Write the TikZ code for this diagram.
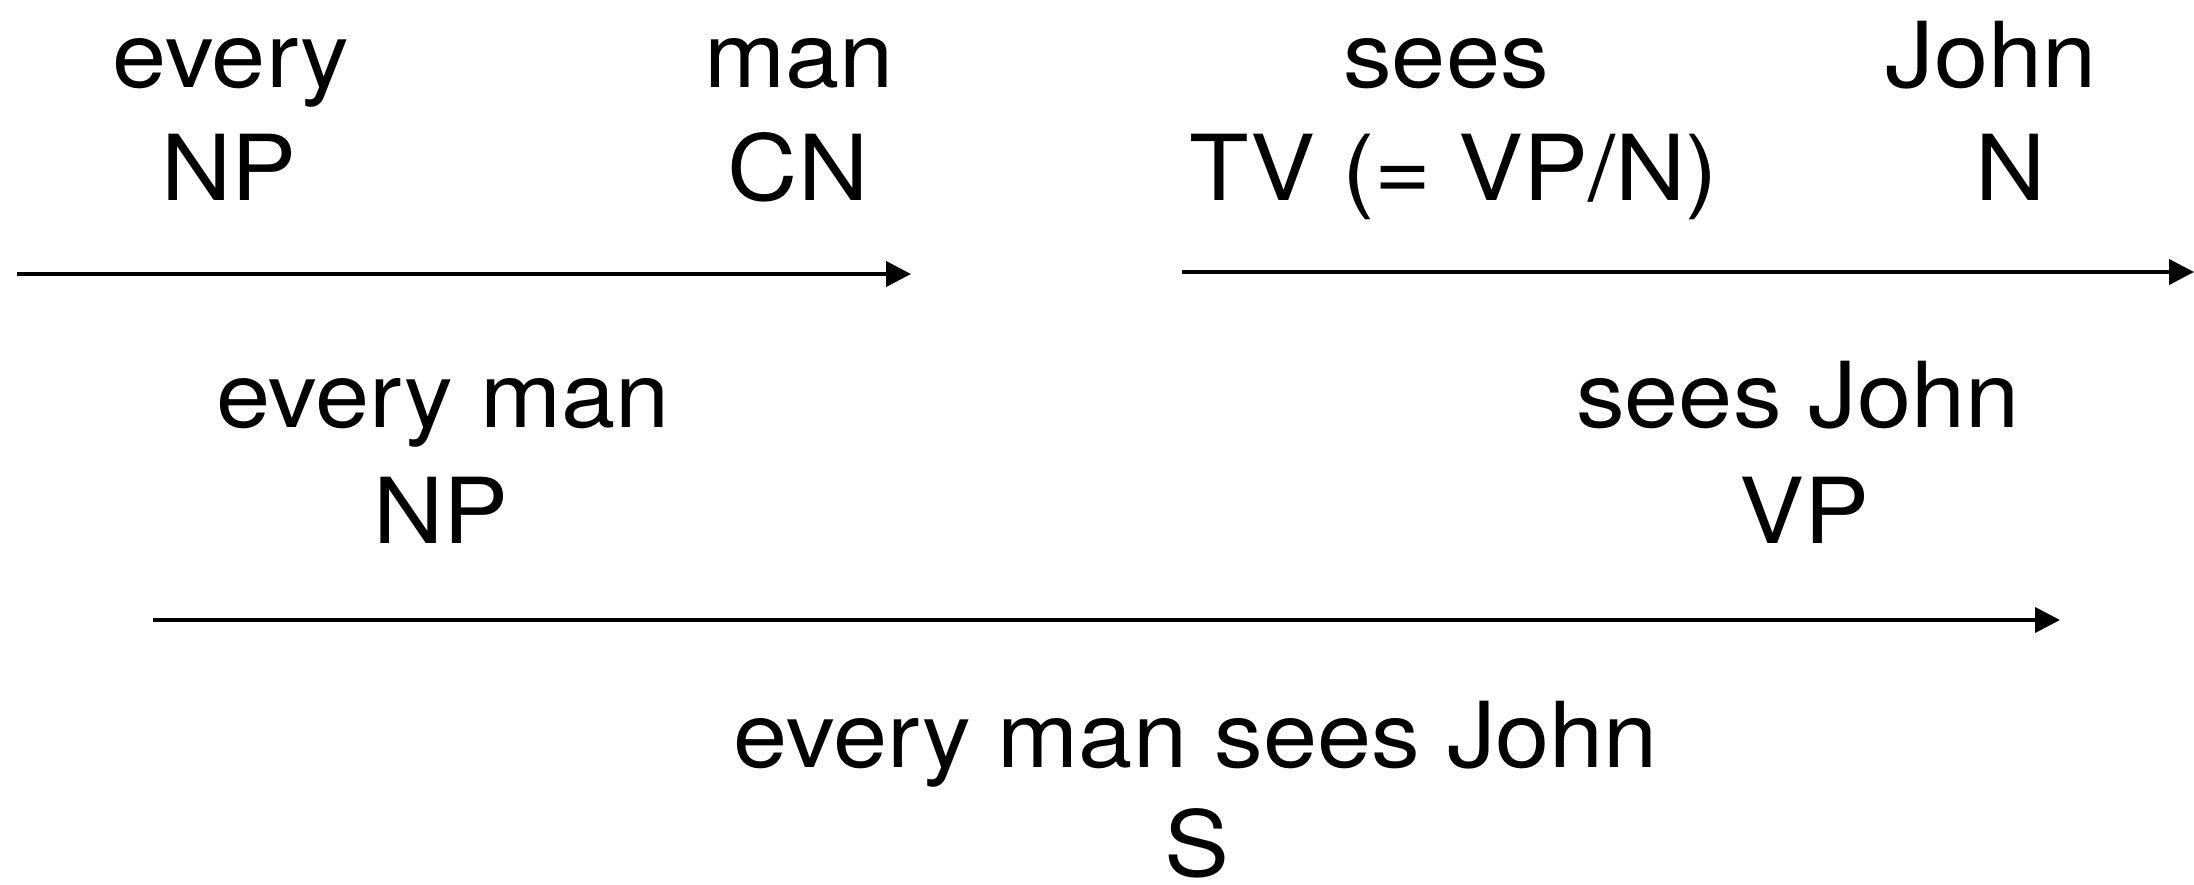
\documentclass[tikz,border=0pt]{standalone}
\usepackage{fontspec}
\setmainfont{TeX Gyre Heros}[FakeStretch=1.07]
\usetikzlibrary{arrows.meta}
\tikzset{
  lbl/.style={anchor=base, inner sep=0pt, font=\fontsize{45.5pt}{54pt}\selectfont},
  arr/.style={line width=2pt, -{Triangle[length=12.5pt,width=12.5pt]}}
}
\begin{document}
\begin{tikzpicture}[x=0.5pt,y=-0.5pt]
\useasboundingbox (0,0) rectangle (2194,884);
% row 1
\node[lbl] (every) at (231,87) {every};
\node[lbl] (man) at (799,87) {man};
\node[lbl] (sees) at (1446,87) {sees};
\node[lbl] (john) at (1991,87) {John};
\node[lbl] (np1) at (229,200) {NP};
\node[lbl] (cn) at (798,200) {CN};
\node[lbl] (tv) at (1454,200) {TV (= VP/N)};
\node[lbl] (n) at (2011,200) {N};
% arrows 1
\coordinate (a1s) at (17,274);
\coordinate (a1e) at (911,274);
\coordinate (a2s) at (1182,272);
\coordinate (a2e) at (2194,272);
\draw[arr] (a1s) -- (a1e);
\draw[arr] (a2s) -- (a2e);
% row 2
\node[lbl] (everyman) at (443,427) {every man};
\node[lbl] (seesjohn) at (1798,427) {sees John};
\node[lbl] (np2) at (441,543) {NP};
\node[lbl] (vp) at (1804,543) {VP};
% arrow 3
\coordinate (a3s) at (153,620);
\coordinate (a3e) at (2060,620);
\draw[arr] (a3s) -- (a3e);
% row 3
\node[lbl] (sentence) at (1196,767) {every man sees John};
\node[lbl] (s) at (1197,876) {S};
\end{tikzpicture}
\end{document}
